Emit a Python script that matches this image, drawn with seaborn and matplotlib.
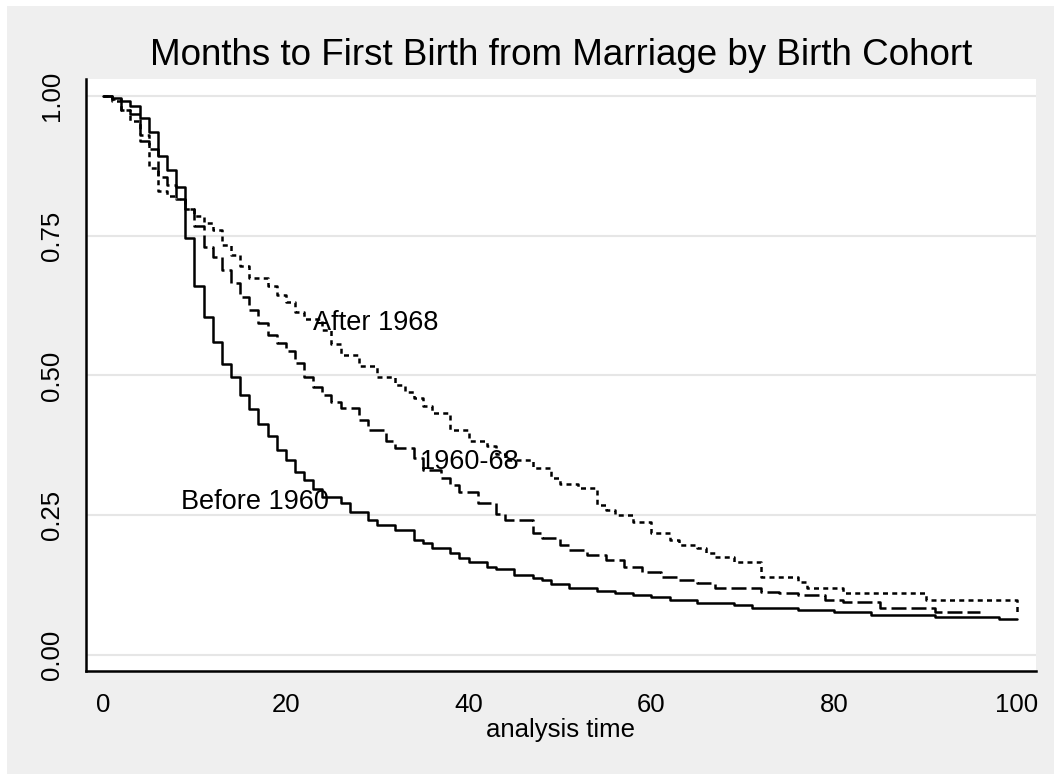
import matplotlib
matplotlib.use("Agg")
import matplotlib.pyplot as plt
import seaborn as sns
import pandas as pd
from matplotlib.patches import Rectangle

# Kaplan-Meier step values (time in months, survivor fn)
t_before = [0, 1, 2, 3, 4, 5, 6, 7, 8, 9, 10, 11, 12, 13, 14, 15, 16, 17, 18, 19,
            20, 21, 22, 23, 24, 26, 27, 29, 30, 32, 34, 35, 36, 38, 39, 40, 42, 43,
            45, 47, 48, 49, 51, 54, 56, 58, 60, 62, 65, 69, 71, 76, 80, 84, 91, 98, 100]
s_before = [1.0, 0.996, 0.99, 0.982, 0.96, 0.935, 0.893, 0.868, 0.837, 0.745, 0.659,
            0.605, 0.559, 0.521, 0.497, 0.465, 0.44, 0.413, 0.391, 0.367, 0.349, 0.328,
            0.313, 0.297, 0.283, 0.271, 0.256, 0.241, 0.233, 0.224, 0.206, 0.2, 0.191,
            0.182, 0.173, 0.166, 0.158, 0.154, 0.143, 0.138, 0.134, 0.127, 0.12, 0.115,
            0.111, 0.107, 0.104, 0.098, 0.093, 0.089, 0.084, 0.08, 0.077, 0.072, 0.068,
            0.064, 0.064]

t_mid = [0, 1, 2, 3, 4, 5, 6, 7, 8, 9, 10, 11, 12, 13, 14, 15, 16, 17, 18, 19, 20,
         21, 22, 23, 24, 25, 26, 28, 29, 31, 32, 34, 35, 37, 38, 39, 41, 43, 44, 47,
         48, 50, 51, 53, 55, 57, 59, 61, 63, 65, 67, 72, 74, 76, 79, 81, 85, 91, 96]
s_mid = [1.0, 0.995, 0.975, 0.968, 0.92, 0.905, 0.855, 0.84, 0.815, 0.797, 0.768,
         0.73, 0.712, 0.689, 0.665, 0.641, 0.617, 0.593, 0.572, 0.558, 0.543, 0.522,
         0.498, 0.48, 0.465, 0.453, 0.441, 0.42, 0.402, 0.382, 0.37, 0.352, 0.331,
         0.316, 0.304, 0.292, 0.271, 0.253, 0.241, 0.218, 0.209, 0.197, 0.188, 0.179,
         0.17, 0.158, 0.149, 0.14, 0.134, 0.128, 0.119, 0.113, 0.11, 0.107, 0.098,
         0.095, 0.084, 0.077, 0.077]

t_after = [0, 1, 2, 3, 4, 5, 6, 7, 8, 9, 10, 11, 12, 13, 14, 15, 16, 18, 19, 20, 21,
           22, 24, 25, 26, 28, 30, 32, 33, 34, 35, 36, 38, 40, 42, 43, 44, 47, 49, 50,
           52, 54, 55, 56, 58, 60, 62, 63, 65, 66, 67, 69, 72, 76, 77, 81, 90, 100]
s_after = [1.0, 0.99, 0.975, 0.955, 0.93, 0.87, 0.83, 0.82, 0.815, 0.797, 0.785,
           0.772, 0.76, 0.733, 0.716, 0.695, 0.674, 0.659, 0.643, 0.632, 0.614, 0.6,
           0.581, 0.557, 0.537, 0.516, 0.497, 0.483, 0.47, 0.459, 0.445, 0.432, 0.402,
           0.382, 0.373, 0.36, 0.349, 0.334, 0.316, 0.306, 0.298, 0.268, 0.259, 0.25,
           0.238, 0.218, 0.206, 0.197, 0.191, 0.182, 0.175, 0.166, 0.14, 0.131, 0.119,
           0.111, 0.098, 0.075]

cohorts = ["Before 1960", "1960-68", "After 1968"]
x_ticks = [0, 20, 40, 60, 80, 100]
y_ticks = [0.0, 0.25, 0.5, 0.75, 1.0]

df = pd.concat([
    pd.DataFrame({"t": t_before, "s": s_before, "cohort": cohorts[0]}),
    pd.DataFrame({"t": t_mid, "s": s_mid, "cohort": cohorts[1]}),
    pd.DataFrame({"t": t_after, "s": s_after, "cohort": cohorts[2]}),
], ignore_index=True)

sns.set_style("white")
plt.rcParams["font.family"] = ["Liberation Sans", "DejaVu Sans"]
plt.rcParams["text.color"] = "black"
plt.rcParams["axes.labelcolor"] = "black"

fig = plt.figure(figsize=(10.54, 7.74), dpi=100)
fig.patch.set_facecolor("white")
# Stata-like gray graph region (thin white strip top/left)
fig.patches.append(Rectangle((7 / 1054, 0), 1 - 7 / 1054, 1 - 6 / 774,
                             transform=fig.transFigure, facecolor="#efefef",
                             edgecolor="none", zorder=-10))
ax = fig.add_axes([86 / 1054, 1 - 671 / 774, 950 / 1054, 592 / 774])
ax.set_facecolor("white")

sns.lineplot(data=df, x="t", y="s", style="cohort", style_order=cohorts,
             dashes={"Before 1960": "", "1960-68": (6, 2), "After 1968": (2, 1.7)},
             color="black", linewidth=1.8, drawstyle="steps-post",
             estimator=None, legend=False, ax=ax)

ax.set_xlim(-1.86, 102.08)
ax.set_ylim(-0.0286, 1.030)
ax.set_xticks(x_ticks)
ax.set_yticks(y_ticks)
ax.set_yticklabels([f"{v:.2f}" for v in y_ticks], rotation=90, va="center")
ax.grid(axis="y", color="#e6e6e6", linewidth=1.5)
ax.grid(axis="x", visible=False)
ax.set_axisbelow(True)

for side in ["top", "right"]:
    ax.spines[side].set_visible(False)
for side in ["left", "bottom"]:
    ax.spines[side].set_color("black")
    ax.spines[side].set_linewidth(1.8)
ax.tick_params(axis="both", direction="out", length=8.5, width=1.6,
               color="black", labelsize=18.5, pad=7, labelcolor="black")

ax.set_xlabel("analysis time", fontsize=18.5, labelpad=1, color="black")
ax.set_ylabel("")
ax.set_title("Months to First Birth from Marriage by Birth Cohort",
             fontsize=26.5, pad=10, color="black")

ax.text(23, 0.594, "After 1968", fontsize=19.5, va="center", ha="left")
ax.text(34.7, 0.345, "1960-68", fontsize=19.5, va="center", ha="left")
ax.text(8.5, 0.274, "Before 1960", fontsize=19.5, va="center", ha="left")

fig.savefig("out.png", dpi=100)
